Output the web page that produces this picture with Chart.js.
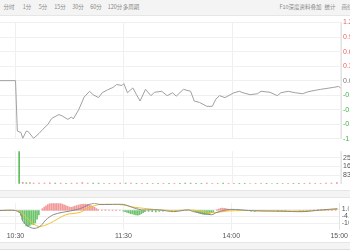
<!DOCTYPE html>
<html>
<head>
<meta charset="utf-8">
<script src="https://cdn.jsdelivr.net/npm/chart.js@4"></script>
<style>
  body { margin: 0; width: 350px; height: 250px; overflow: hidden; background: #fff; position: relative; font-family: "Noto Sans CJK SC", sans-serif; }
  .band { position: absolute; left: 0; width: 350px; background: #f4f4f4; }
  #toolbar { top: 0; height: 15px; border-bottom: 1px solid #e6e6e6; }
  #toolbar span { position: absolute; top: 3px; font-size: 5.5px; line-height: 8px; color: #888; transform: translateX(-50%); white-space: nowrap; }
  canvas { position: absolute; left: 0; }
</style>
</head>
<body>

<div class="band" id="toolbar">
  <span style="left:9px">分时</span>
  <span style="left:27px">1分</span>
  <span style="left:43px">5分</span>
  <span style="left:60px">15分</span>
  <span style="left:78px">30分</span>
  <span style="left:96px">60分</span>
  <span style="left:115px">120分</span>
  <span style="left:131px">多周期</span>
  <span style="left:295px">F10深度资料</span>
  <span style="left:316px">叠加</span>
  <span style="left:330px">统计</span>
  <span style="left:347px">画线</span>
</div>

<canvas id="priceChart" width="350" height="129" style="top:16px"></canvas>
<canvas id="volumeChart" width="350" height="45" style="top:145px"></canvas>
<div class="band" style="top:190px; height:6px; border-top:1px solid #e6e6e6; border-bottom:1px solid #e6e6e6;"></div>
<canvas id="macdChart" width="350" height="45" style="top:197px"></canvas>
<div class="band" style="top:242px; height:6px; border-top:1px solid #e6e6e6; border-bottom:1px solid #ddd;"></div>

<script>

// minutes counted from 10:30 (trading resumed), 11:30 and 13:00 share one point
const priceMinutes = [-9, 0, 1, 3, 4, 6, 7, 10, 13, 15, 18, 20, 24, 26, 29, 31, 32, 35, 38, 41, 43, 46, 48, 51, 54, 56, 59, 60, 62, 65, 67, 69, 72, 75, 77, 81, 84, 87, 89, 93, 97, 99, 102, 106, 109, 111, 113, 116, 121, 124, 126, 130, 134, 136, 141, 145, 147, 151, 155, 159, 162, 166, 169, 176, 179, 180];
const pricePct = [0, 0, -1.04, -1.07, -1.19, -1.04, -1.05, -1.19, -1.09, -1.01, -0.90, -0.78, -0.70, -0.73, -0.80, -0.75, -0.79, -0.60, -0.34, -0.22, -0.29, -0.35, -0.25, -0.19, -0.14, -0.08, -0.10, -0.06, -0.25, -0.15, -0.29, -0.42, -0.18, -0.31, -0.24, -0.22, -0.31, -0.25, -0.32, -0.18, -0.22, -0.42, -0.45, -0.53, -0.53, -0.38, -0.31, -0.35, -0.25, -0.22, -0.25, -0.29, -0.27, -0.22, -0.24, -0.31, -0.25, -0.22, -0.25, -0.27, -0.23, -0.20, -0.18, -0.14, -0.12, -0.15];
const pctTicks = [-1.2, -0.9, -0.6, -0.3, 0, 0.3, 0.6, 0.9, 1.2];

const volMinutes = [2, 4, 6, 8, 10, 13, 16, 19, 22, 25, 28, 31, 34, 37, 40, 43, 46, 49, 52, 55, 58, 61, 64, 67, 70, 73, 76, 79, 82, 85, 88, 91, 94, 97, 100, 103, 106, 109, 112, 115, 118, 121, 124, 127, 130, 133, 136, 139, 142, 145, 148, 151, 154, 157, 160, 163, 166, 169, 172, 175, 178];
const volValues = [3120, 140, 90, 110, 80, 70, 60, 90, 70, 60, 50, 60, 70, 110, 80, 60, 70, 40, 50, 40, 60, 70, 60, 50, 40, 50, 40, 50, 40, 40, 50, 40, 60, 70, 50, 40, 60, 50, 40, 60, 40, 40, 50, 40, 30, 40, 50, 40, 30, 40, 50, 40, 40, 50, 40, 60, 50, 40, 60, 70, 120];
const volDir = [-1, 1, -1, 1, 1, 1, 1, 1, -1, 1, -1, 1, 1, 1, 1, -1, -1, 1, 1, 1, 1, -1, 1, -1, 1, -1, 1, -1, 1, -1, 1, -1, -1, -1, -1, -1, 1, 1, 1, -1, 1, 1, -1, -1, 1, 1, 1, -1, 1, -1, 1, 1, -1, -1, 1, 1, 1, 1, 1, 1, 1];
const volTicks = [833, 1666, 2500];
const volTickText = ["833万", "1666万", "2500万"];

const lineMinutes = [-9, 0, 3, 4, 8, 11, 14, 17, 21, 26, 30, 36, 41, 44, 47, 52, 60, 65, 70, 73, 80, 88, 96, 99, 109, 112, 119, 133, 148, 160, 169, 179];
const difValues = [0, 0, -2.5, -8.4, -13.4, -14.4, -12.4, -7.4, -3.4, -1.5, -0.5, 1.5, 4.9, 5.8, 4.9, 4.9, 4.9, 2.5, 0.5, 0.5, 0.5, -0.9, 0.5, -0.9, -3.4, -1.5, 0.9, -0.3, -0.6, -0.9, 0.3, 1.5];
const deaMinutes = [-9, 0, 3, 8, 13, 19, 28, 36, 41, 47, 54, 60, 65, 73, 80, 88, 99, 109, 119, 133, 160, 179];
const deaValues = [0, 0, -1.5, -8.4, -12.9, -10.4, -3.4, -1.5, 2.5, 4.9, 5.0, 4.5, 2.9, 1.5, 0.5, 0, 0.3, -1.8, -0.3, 0, -0.3, 0.9];
const histMinutes = [
  2, 3, 4, 5, 6, 7, 8, 9, 10, 11, 12, 13,
  15, 16, 17, 18, 19, 20, 21, 22, 23, 24, 25, 26, 27, 28, 29, 30, 31, 32, 33, 34, 35, 36, 37, 38, 39, 40, 41, 42, 43, 44, 45, 46,
  48, 50, 52, 54, 56, 58,
  60, 61, 62, 63, 64, 65, 66, 67, 68, 69, 70, 71, 72,
  74, 76, 78, 80, 82,
  99, 100, 101, 102, 103, 104, 105, 106, 107, 108, 109, 110,
  112, 113, 114, 115, 116, 117, 118, 119,
  131, 133, 146, 148, 150, 158, 160, 162, 164, 166, 168, 170, 172, 174, 176, 178
];
const histValues = [
  -1.5, -4, -7.5, -10.5, -12.5, -13, -12, -11, -11.5, -10, -7, -3.5,
  1.5, 2.8, 3.8, 4.8, 5.5, 6, 6.3, 6.5, 6.5, 6.2, 5.8, 5.2, 4.6, 4, 3.3, 2.8, 2.6, 3, 3.5, 4, 4.4, 4.7, 5, 5.1, 5.2, 5, 4.6, 4, 3.3, 2.5, 1.6, 0.8,
  0.4, 0.5, 0.3, 0.4, 0.3, 0.2,
  -0.5, -1, -1.5, -2, -2.5, -2.8, -3.2, -3.6, -3.8, -3.4, -2.6, -1.8, -1,
  -0.8, -1, -1.2, -0.8, -0.5,
  -0.5, -1, -1.6, -2.2, -2.6, -3, -3.1, -3, -2.8, -2.4, -1.8, -1,
  0.6, 1.2, 1.7, 1.9, 1.8, 1.5, 1.1, 0.6,
  -0.6, -0.8, -0.6, -0.8, -0.6, -0.7, -0.9, -0.6, 0.4, 0.6, 0.7, 0.8, 0.9, 0.9, 1, 0.8
];
const macdTicks = [-10.23, -4.6, 1.03];

const timeTicks = [0, 60, 120, 180];
const timeText = ["10:30", "11:30", "14:00", "15:00"];


const numFont = { family: "Liberation Sans", size: 7 };
const red = "#f06060";
const green = "#3cb043";


function xAxis(showLabels) {
  return {
    type: "linear",
    min: -8.6,
    max: 180.3,
    offset: false,
    afterBuildTicks: s => { s.ticks = timeTicks.map(v => ({ value: v })); },
    grid: { color: "#efefef", drawTicks: false, offset: false },
    border: { display: false },
    ticks: {
      display: showLabels,
      autoSkip: false,
      maxRotation: 0,
      padding: 2,
      color: "#555",
      font: { family: "Liberation Sans", size: 7 },
      callback: v => timeText[timeTicks.indexOf(v)]
    }
  };
}

function yAxis(min, max, tickValues, colorFn, textFn) {
  return {
    position: "right",
    min: min,
    max: max,
    afterBuildTicks: s => { s.ticks = tickValues.map(v => ({ value: v })); },
    afterFit: s => { s.width = 9; },
    grid: { color: "#f0f0f0", drawTicks: false },
    border: { display: true, color: "#e4e4e4" },
    ticks: {
      padding: 2,
      font: numFont,
      color: ctx => colorFn(ctx.tick.value),
      callback: v => textFn(v)
    }
  };
}

const baseOptions = {
  responsive: false,
  animation: false,
  plugins: { legend: { display: false }, tooltip: { enabled: false } }
};


// =================== price ===================

new Chart(document.getElementById("priceChart"), {
  type: "line",
  data: {
    datasets: [{
      data: priceMinutes.map((m, i) => ({ x: m, y: pricePct[i] })),
      borderColor: "#a0a0a0",
      borderWidth: 1,
      pointRadius: 0,
      tension: 0
    }]
  },
  options: {
    ...baseOptions,
    layout: { padding: { top: 6.5, bottom: 5.5, left: 0, right: 0 } },
    scales: {
      x: xAxis(false),
      y: yAxis(-1.2, 1.2, pctTicks,
        v => v > 0 ? red : (v < 0 ? green : "#777"),
        v => v.toFixed(2) + "%")
    }
  }
});


// =================== volume ===================

new Chart(document.getElementById("volumeChart"), {
  type: "bar",
  data: {
    datasets: [{
      data: volMinutes.map((m, i) => ({ x: m, y: volValues[i] })),
      backgroundColor: volDir.map(d => d > 0 ? "#f28b8b" : "#5cbf5c"),
      barThickness: 1
    }]
  },
  options: {
    ...baseOptions,
    layout: { padding: { top: 0, bottom: 1, left: 0, right: 0 } },
    scales: {
      x: xAxis(false),
      y: yAxis(0, 3120, volTicks, () => "#555", v => volTickText[volTicks.indexOf(v)])
    }
  }
});


// =================== MACD ===================

new Chart(document.getElementById("macdChart"), {
  type: "bar",
  data: {
    datasets: [{
      type: "line",
      data: lineMinutes.map((m, i) => ({ x: m, y: difValues[i] })),
      borderColor: "#8a8a8a",
      borderWidth: 1,
      pointRadius: 0,
      tension: 0.3
    }, {
      type: "line",
      data: deaMinutes.map((m, i) => ({ x: m, y: deaValues[i] })),
      borderColor: "#f2c12e",
      borderWidth: 1,
      pointRadius: 0,
      tension: 0.3
    }, {
      data: histMinutes.map((m, i) => ({ x: m, y: histValues[i] })),
      backgroundColor: ctx => ctx.raw && ctx.raw.y >= 0 ? "#f29a9a" : "#6cc46c",
      barThickness: 1
    }]
  },
  options: {
    ...baseOptions,
    layout: { padding: { top: 0, bottom: 0, left: 0, right: 0 } },
    scales: {
      x: xAxis(true),
      y: yAxis(-15.4, 5.9, macdTicks, () => "#555", v => v.toFixed(2))
    }
  }
});

</script>
</body>
</html>
